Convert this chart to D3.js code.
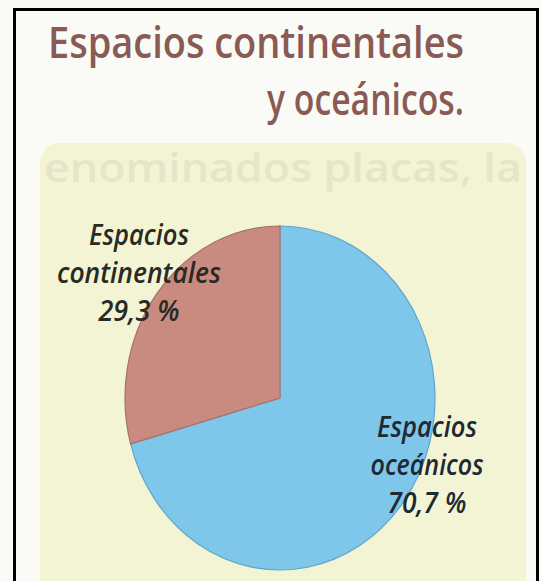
<!DOCTYPE html>
<html>
<head>
<meta charset="utf-8">
<script src="https://cdn.jsdelivr.net/npm/d3@7"></script>
<style>
  body { margin: 0; background: #fff; }
  svg { display: block; }
</style>
</head>
<body>
<div id="vis"></div>
<script>
const W = 541, H = 581;

// data
const categories = ["Espacios oceánicos", "Espacios continentales"];
const values = [70.7, 29.3];
const labelLines = [
    ["Espacios", "oceánicos", "70,7 %"],
    ["Espacios", "continentales", "29,3 %"]
];
const titleLines = ["Espacios continentales", "y oceánicos."];

const colors = d3.scaleOrdinal(categories, ["#7ec6ea", "#c98b7f"]);
const strokes = d3.scaleOrdinal(categories, ["#5ea6cc", "#a87265"]);

const svg = d3.select("#vis")
    .append("svg")
    .attr("width", W)
    .attr("height", H);

// page background + yellow panel
svg.append("rect").attr("width", W).attr("height", H).attr("fill", "#fafaf6");
svg.append("rect")
    .attr("x", 40).attr("y", 143)
    .attr("width", 486).attr("height", 470)
    .attr("rx", 20)
    .attr("fill", "#f3f4d3");

// faint show-through text from the back of the page
svg.append("text")
    .attr("x", 44).attr("y", 182)
    .attr("textLength", 478).attr("lengthAdjust", "spacingAndGlyphs")
    .style("font-family", "Open Sans").style("font-weight", 600)
    .style("font-size", "40px").attr("fill", "#e5e6c9")
    .text("enominados placas, la");

// title
const title = svg.append("g")
    .style("font-family", "Open Sans")
    .style("font-weight", 600)
    .style("font-size", "43px")
    .attr("fill", "#8a5a55");

title.append("text")
    .attr("x", 48).attr("y", 58)
    .attr("textLength", 416).attr("lengthAdjust", "spacingAndGlyphs")
    .text(titleLines[0]);

title.append("text")
    .attr("x", 267).attr("y", 115)
    .attr("textLength", 197).attr("lengthAdjust", "spacingAndGlyphs")
    .text(titleLines[1]);

// pie (slightly taller than wide, as in the scan)
const rx = 155, ry = 172;
const cx = 280, cy = 398;

const pie = d3.pie().sort(null).value(d => d)(values);
const arc = d3.arc().innerRadius(0).outerRadius(rx);

const pieG = svg.append("g")
    .attr("transform", `translate(${cx},${cy}) scale(1,${ry / rx})`);

pieG.selectAll("path")
    .data(pie)
    .enter()
    .append("path")
    .attr("d", arc)
    .attr("fill", (d, i) => colors(categories[i]))
    .attr("stroke", (d, i) => strokes(categories[i]))
    .attr("stroke-width", 1.2)
    .attr("vector-effect", "non-scaling-stroke");

// labels
const labelPos = [
    { x: 427, y: 437, widths: [100, 113, 79] },
    { x: 139, y: 245, widths: [100, 164, 81] }
];
const lineGap = 38;

labelLines.forEach((lines, i) => {
    const g = svg.append("g")
        .style("font-family", "Open Sans")
        .style("font-style", "italic")
        .style("font-weight", 600)
        .style("font-size", "28px")
        .attr("fill", i === 0 ? "#1e2a33" : "#2a2a24")
        .attr("text-anchor", "middle");
    lines.forEach((t, j) => {
        g.append("text")
            .attr("x", labelPos[i].x)
            .attr("y", labelPos[i].y + j * lineGap)
            .attr("textLength", labelPos[i].widths[j])
            .attr("lengthAdjust", "spacingAndGlyphs")
            .text(t);
    });
});

// scan border
svg.append("path")
    .attr("d", `M14.5,${H} V9.5 H537.5 V${H}`)
    .attr("fill", "none")
    .attr("stroke", "#000")
    .attr("stroke-width", 3);
</script>
</body>
</html>
